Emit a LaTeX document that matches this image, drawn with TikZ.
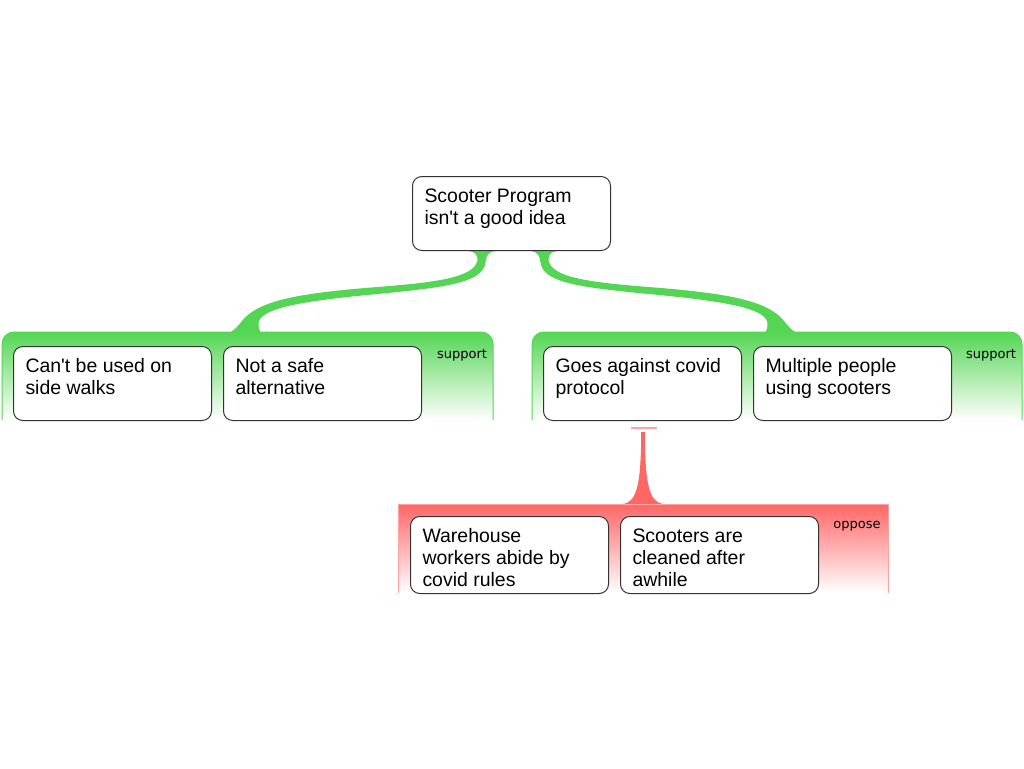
\documentclass[tikz,border=0pt]{standalone}
\usepackage{fontspec}
\setmainfont{Liberation Sans}[Ligatures=TeXOff]
\newfontfamily\tagfont{DejaVu Sans}
\usetikzlibrary{calc,backgrounds}

\definecolor{proGreen}{RGB}{84,214,84}
\definecolor{conRed}{RGB}{255,102,102}
\definecolor{boxGray}{RGB}{51,51,51}

% text of a claim box, set at its top left
\newcommand\claimtext[2][55.5pt]{\parbox[c][#1][t]{130.5pt}{\raggedright\rule{0pt}{19.5pt}#2}}

\tikzset{every picture/.style={line width=0.75pt}}
\tikzset{
  claim/.style={draw=boxGray, fill=white, rounded corners=7pt, anchor=north west,
    inner xsep=9pt, inner ysep=0pt, font=\fontsize{14.6}{16.5}\selectfont},
  tag/.style={font=\tagfont\fontsize{9.75}{11}\selectfont},
  % swept link from the claim down to a group, drawn from its top end
  prolink/.pic={
    \fill[proGreen] (-13,0) .. controls (-6,1) and (-4,4) .. (-4,9) .. controls (-7,26) and (-41,31) .. (-104,36) .. controls (-181,42) and (-219,49) .. (-237,67) .. controls (-243,74) and (-248,82) .. (-258,84) -- (-215,84) .. controls (-221,83) and (-223,80) .. (-223,73) .. controls (-223,59) and (-191,51) .. (-104,43) .. controls (-31,36) and (2,31) .. (4,11) .. controls (5,4) and (7,1) .. (14,0) -- cycle ;
  },
}

\begin{document}
\begin{tikzpicture}[x=0.75pt,y=0.75pt,yscale=-1,xscale=1]
	\useasboundingbox (0,0) rectangle (1024,768);

	%Shape: support group, left
	\shade[top color=proGreen, bottom color=white, draw=proGreen] (2,420) -- (2,344) arc[start angle=180, end angle=270, radius=12] -- (481,332) arc[start angle=270, end angle=360, radius=12] -- (493,420) ;
	%Shape: support group, right
	\shade[top color=proGreen, bottom color=white, draw=proGreen] (532,420) -- (532,344) arc[start angle=180, end angle=270, radius=12] -- (1010,332) arc[start angle=270, end angle=360, radius=12] -- (1022,420) ;
	%Shape: oppose group
	\shade[top color=conRed, bottom color=white, draw=conRed!60] (398,593) -- (398,504) -- (888,504) -- (888,593) ;

	% Claim Nodes
	\node[claim] (root) at (412,176) {\claimtext{Scooter Program\\isn't a good idea}};
	\node[claim] (pro1) at (13,346) {\claimtext{Can't be used on\\side walks}};
	\node[claim] (pro2) at (223,346) {\claimtext{Not a safe\\alternative}};
	\node[claim] (pro3) at (543,346) {\claimtext{Goes against covid\\protocol}};
	\node[claim] (pro4) at (753,346) {\claimtext{Multiple people\\using scooters}};
	\node[claim] (con1) at (410,516) {\claimtext[57.75pt]{Warehouse\\workers abide by\\covid rules}};
	\node[claim] (con2) at (620,516) {\claimtext[57.75pt]{Scooters are\\cleaned after\\awhile}};

	% Text Node
	\node[tag] (proTagA) at (462,355) {support};
	\node[tag] (proTagB) at (991,355) {support};
	\node[tag] (conTag) at (857,526) {oppose};

	% link ends
	\coordinate (rootL) at ($(root.south)+(-30,0)$);
	\coordinate (rootR) at ($(root.south)+(33,0)$);
	\coordinate (conMark) at ($(pro3.south)+(1,7)$);
	\coordinate (conTop) at (643,504);

	\begin{scope}[on background layer]
	%Curve Lines: root to the two support groups
	\pic[yscale=-1] at (rootL) {prolink};
	\pic[xscale=-1,yscale=-1] at (rootR) {prolink};
	%Straight Lines: pro3 to oppose group
	\draw[conRed!60, line width=1.5pt] ($(conMark)+(-13,0)$) -- ($(conMark)+(13,0)$) ;
	\fill[conRed, shift={(conTop)}] (-21,0) .. controls (-6,-1) and (-2,-20) .. (-1.8,-72) -- (1.8,-72) .. controls (2,-20) and (6,-1) .. (21,0) -- cycle ;
	\end{scope}

\end{tikzpicture}
\end{document}
